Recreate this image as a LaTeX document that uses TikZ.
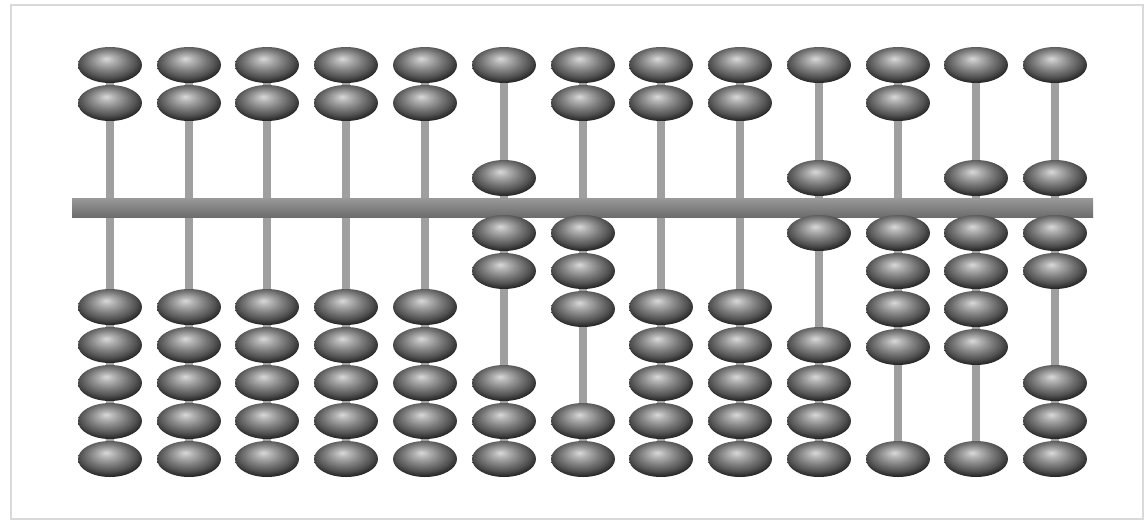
\documentclass[tikz,border=0pt]{standalone}
\usetikzlibrary{shapes.geometric}
\pgfdeclareradialshading{beadshade}{\pgfpoint{-3bp}{9bp}}{%
  color(0bp)=(gray!30); color(6bp)=(gray!62); color(14bp)=(gray!100);
  color(22bp)=(black!68); color(28bp)=(black!85); color(50bp)=(black!85)}
\tikzset{
  bead/.style={ellipse, minimum width=1.28cm, minimum height=0.72cm,
    inner sep=0pt, shade, shading=beadshade},
  rod/.style={line width=0.16cm, draw=gray!75}
}
\begin{document}
\begin{tikzpicture}[x=0.02cm, y=-0.02cm]
      \useasboundingbox (0,0) rectangle (1146,525);
      \draw[gray!30, line width=1.2pt] (11,5) rectangle (1143,519);
      \draw
        (110,65) coordinate (t1) (110,459) coordinate (b1)
        (189,65) coordinate (t2) (189,459) coordinate (b2)
        (267,65) coordinate (t3) (267,459) coordinate (b3)
        (346,65) coordinate (t4) (346,459) coordinate (b4)
        (425,65) coordinate (t5) (425,459) coordinate (b5)
        (504,65) coordinate (t6) (504,459) coordinate (b6)
        (583,65) coordinate (t7) (583,459) coordinate (b7)
        (661,65) coordinate (t8) (661,459) coordinate (b8)
        (740,65) coordinate (t9) (740,459) coordinate (b9)
        (819,65) coordinate (t10) (819,459) coordinate (b10)
        (898,65) coordinate (t11) (898,459) coordinate (b11)
        (976,65) coordinate (t12) (976,459) coordinate (b12)
        (1055,65) coordinate (t13) (1055,459) coordinate (b13);
      \begin{scope}[rod]
        \draw (t1) to (b1);
        \draw (t2) to (b2);
        \draw (t3) to (b3);
        \draw (t4) to (b4);
        \draw (t5) to (b5);
        \draw (t6) to (b6);
        \draw (t7) to (b7);
        \draw (t8) to (b8);
        \draw (t9) to (b9);
        \draw (t10) to (b10);
        \draw (t11) to (b11);
        \draw (t12) to (b12);
        \draw (t13) to (b13);
      \end{scope}
      % beam
      \shade[top color=gray!80, bottom color=gray!85!black] (72,198) rectangle (1093,217);
      \begin{scope}[every node/.style={bead}]
      \draw
        (110,65) node (u1a){} (110,103) node (u1b){}
        (110,307) node (l1a){} (110,345) node (l1b){} (110,383) node (l1c){}
        (110,421) node (l1d){} (110,459) node (l1e){};
      \draw
        (189,65) node (u2a){} (189,103) node (u2b){}
        (189,307) node (l2a){} (189,345) node (l2b){} (189,383) node (l2c){}
        (189,421) node (l2d){} (189,459) node (l2e){};
      \draw
        (267,65) node (u3a){} (267,103) node (u3b){}
        (267,307) node (l3a){} (267,345) node (l3b){} (267,383) node (l3c){}
        (267,421) node (l3d){} (267,459) node (l3e){};
      \draw
        (346,65) node (u4a){} (346,103) node (u4b){}
        (346,307) node (l4a){} (346,345) node (l4b){} (346,383) node (l4c){}
        (346,421) node (l4d){} (346,459) node (l4e){};
      \draw
        (425,65) node (u5a){} (425,103) node (u5b){}
        (425,307) node (l5a){} (425,345) node (l5b){} (425,383) node (l5c){}
        (425,421) node (l5d){} (425,459) node (l5e){};
      \draw
        (504,65) node (u6a){} (504,178) node (u6b){}
        (504,233) node (l6a){} (504,271) node (l6b){} (504,383) node (l6c){}
        (504,421) node (l6d){} (504,459) node (l6e){};
      \draw
        (583,65) node (u7a){} (583,103) node (u7b){}
        (583,233) node (l7a){} (583,271) node (l7b){} (583,309) node (l7c){}
        (583,421) node (l7d){} (583,459) node (l7e){};
      \draw
        (661,65) node (u8a){} (661,103) node (u8b){}
        (661,307) node (l8a){} (661,345) node (l8b){} (661,383) node (l8c){}
        (661,421) node (l8d){} (661,459) node (l8e){};
      \draw
        (740,65) node (u9a){} (740,103) node (u9b){}
        (740,307) node (l9a){} (740,345) node (l9b){} (740,383) node (l9c){}
        (740,421) node (l9d){} (740,459) node (l9e){};
      \draw
        (819,65) node (u10a){} (819,178) node (u10b){}
        (819,233) node (l10a){} (819,345) node (l10b){} (819,383) node (l10c){}
        (819,421) node (l10d){} (819,459) node (l10e){};
      \draw
        (898,65) node (u11a){} (898,103) node (u11b){}
        (898,233) node (l11a){} (898,271) node (l11b){} (898,309) node (l11c){}
        (898,347) node (l11d){} (898,459) node (l11e){};
      \draw
        (976,65) node (u12a){} (976,178) node (u12b){}
        (976,233) node (l12a){} (976,271) node (l12b){} (976,309) node (l12c){}
        (976,347) node (l12d){} (976,459) node (l12e){};
      \draw
        (1055,65) node (u13a){} (1055,178) node (u13b){}
        (1055,233) node (l13a){} (1055,271) node (l13b){} (1055,383) node (l13c){}
        (1055,421) node (l13d){} (1055,459) node (l13e){};
      \end{scope}
    \end{tikzpicture}
\end{document}
